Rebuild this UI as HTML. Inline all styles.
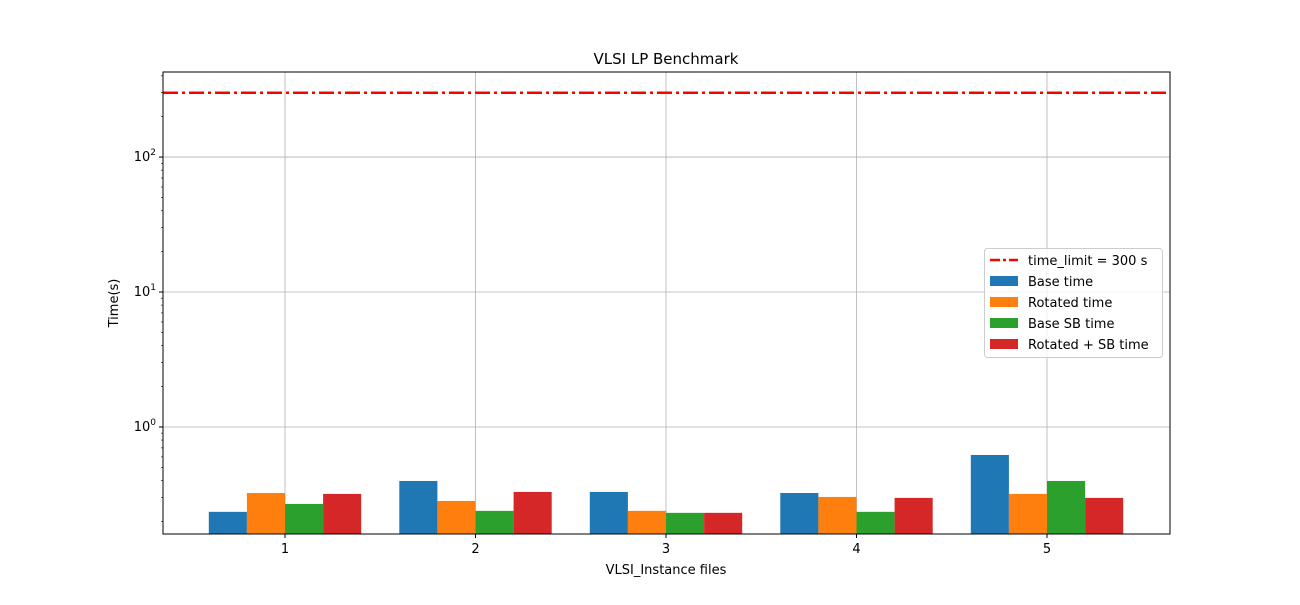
<!DOCTYPE html>
<html><head><meta charset="utf-8"><style>
body{margin:0;background:#fff;}
svg text{font-family:"DejaVu Sans","Liberation Sans",sans-serif;}
</style></head><body>
<svg id="chart" width="1300" height="600" xmlns="http://www.w3.org/2000/svg">
<rect width="1300" height="600" fill="#fff"/>
<g id="grid"></g>
<g id="bars"></g>
<g id="axes"></g>
<text x="666" y="64" font-size="15" text-anchor="middle">VLSI LP Benchmark</text>
<text x="666" y="574" font-size="13" text-anchor="middle">VLSI_Instance files</text>
<text x="118" y="303" font-size="13" text-anchor="middle" transform="rotate(-90 118 303)">Time(s)</text>
<g id="legend"></g>
</svg>
<script>
const categories=["1","2","3","4","5"];
const seriesNames=["Base time","Rotated time","Base SB time","Rotated + SB time"];
const baseTime=[0.235,0.398,0.33,0.324,0.62];
const rotatedTime=[0.324,0.283,0.239,0.303,0.319];
const baseSBTime=[0.269,0.239,0.231,0.235,0.398];
const rotatedSBTime=[0.319,0.33,0.231,0.298,0.298];
const timeLimit=300;
const yTickExps=[0,1,2];

const colors=["#1f77b4","#ff7f0e","#2ca02c","#d62728"];
const series=[baseTime,rotatedTime,baseSBTime,rotatedSBTime];
const L=163,R=1170,T=72,B=534;
const yMin=Math.log10(0.161),yMax=Math.log10(427);
const y=v=>B-(Math.log10(v)-yMin)/(yMax-yMin)*(B-T);
const step=(R-L)/(categories.length+0.286);
const x=i=>285+i*190.5;
const NS="http://www.w3.org/2000/svg";
function mk(tag,attrs,parent){const e=document.createElementNS(NS,tag);for(const k in attrs)e.setAttribute(k,attrs[k]);parent.appendChild(e);return e;}
const grid=document.getElementById('grid'),bars=document.getElementById('bars'),axes=document.getElementById('axes'),legend=document.getElementById('legend');
categories.forEach((c,i)=>{
 const g=mk('line',{x1:x(i),x2:x(i),y1:T,y2:B,stroke:'#b0b0b0','stroke-width':0.8},grid);
 
 const t=mk('line',{x1:x(i),x2:x(i),y1:B,y2:B+4,stroke:'#000'},axes);
 
 const l=mk('text',{x:x(i),y:B+19,'font-size':13,'text-anchor':'middle'},axes);l.textContent=c;
 
});
yTickExps.forEach(e=>{
 const yy=y(Math.pow(10,e));
 const g=mk('line',{x1:L,x2:R,y1:yy,y2:yy,stroke:'#b0b0b0','stroke-width':0.8},grid);
 
 const t=mk('line',{x1:L-4,x2:L,y1:yy,y2:yy,stroke:'#000'},axes);
 
 const l=mk('text',{x:L-7,y:yy+4,'font-size':13,'text-anchor':'end'},axes);
 l.innerHTML='10<tspan dy="-6" font-size="9">'+e+'</tspan>';
 
});
for(let e=-1;e<=2;e++)for(let m=2;m<=9;m++){const v=m*Math.pow(10,e);const yy=y(v);if(yy<T||yy>B)continue;
 const t=mk('line',{x1:L-2,x2:L,y1:yy,y2:yy,stroke:'#000','stroke-width':0.6},axes);
 }
const bw=38.1;
series.forEach((s,k)=>s.forEach((v,i)=>{
 const bx=x(i)+(k-2)*bw;const yy=y(v);
 const r=mk('rect',{x:bx,y:yy,width:bw,height:B-yy,fill:colors[k]},bars);
 
}));
const tl=mk('line',{x1:L,x2:R,y1:y(timeLimit),y2:y(timeLimit),stroke:'#ff0000','stroke-width':2.5,'stroke-dasharray':'15 4 3 4'},bars);

const frame=mk('rect',{x:L,y:T,width:R-L,height:B-T,fill:'none',stroke:'#000','stroke-width':1},axes);

const lb=mk('rect',{x:984.5,y:248.5,width:178,height:109,rx:3,fill:'#fff','fill-opacity':0.8,stroke:'#ccc'},legend);

const labels=["time_limit = 300 s"].concat(seriesNames);
labels.forEach((s,j)=>{
 const yy=260+j*21;
 if(j===0){const m=mk('line',{x1:990,x2:1018,y1:yy,y2:yy,stroke:'#ff0000','stroke-width':2.5,'stroke-dasharray':'10 3 3 3'},legend);
  }
 else{const m=mk('rect',{x:990,y:yy-5,width:28,height:10,fill:colors[j-1]},legend);
  }
 const t=mk('text',{x:1028,y:yy+5,'font-size':13},legend);t.textContent=s;
 
});
</script>
</body></html>
